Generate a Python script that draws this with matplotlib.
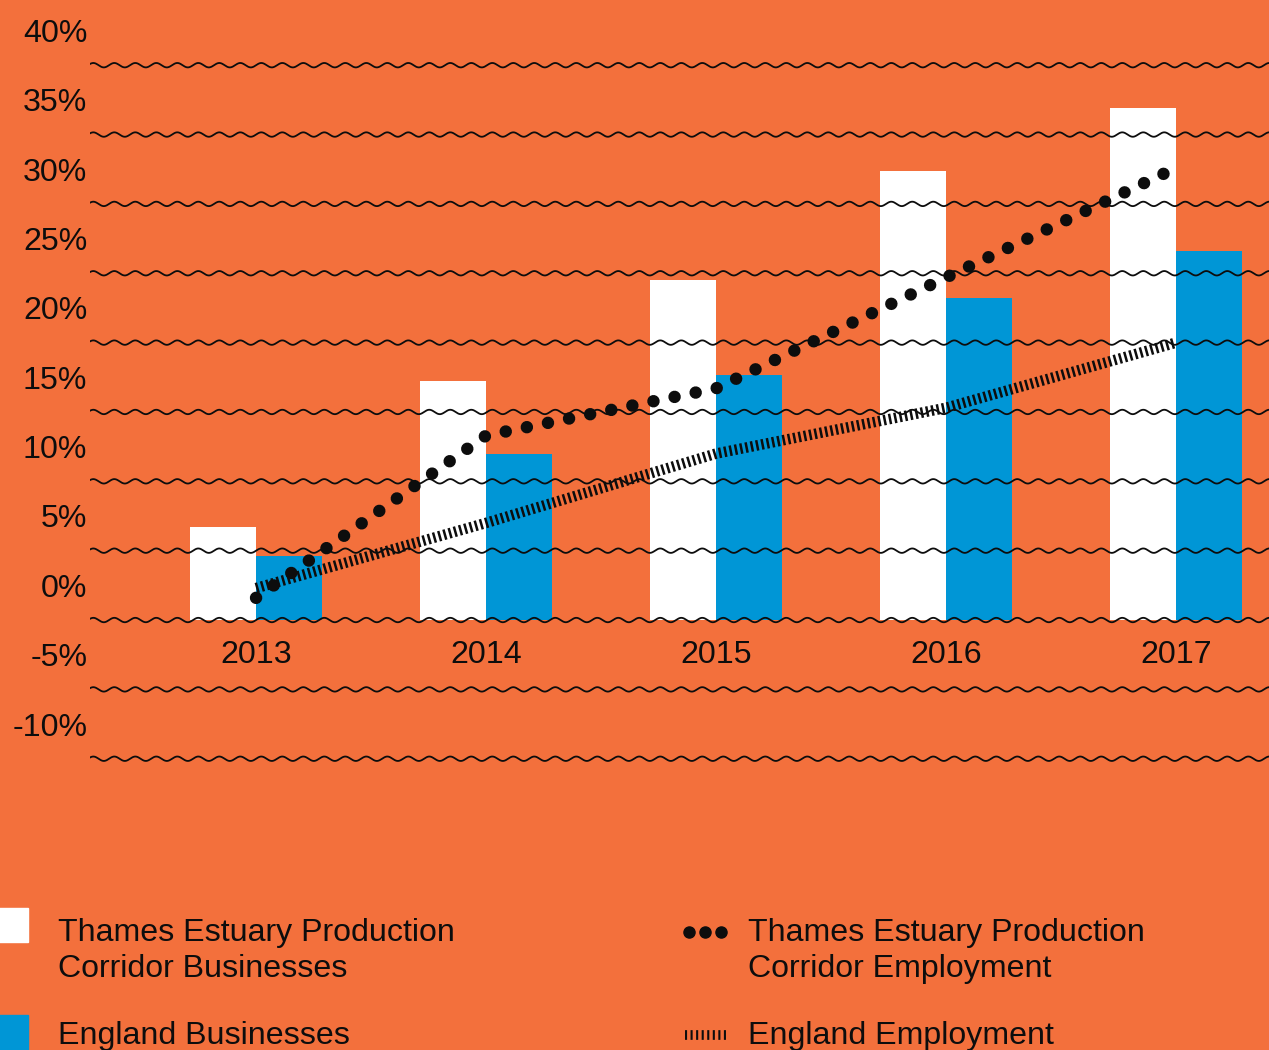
import numpy as np
import matplotlib
matplotlib.use("Agg")
import matplotlib.pyplot as plt
from matplotlib.lines import Line2D
from matplotlib.patches import Rectangle

plt.rcParams['font.family'] = ['Liberation Sans', 'DejaVu Sans']
plt.rcParams['lines.scale_dashes'] = False

# data (percent growth since 2012)
years = ['2013', '2014', '2015', '2016', '2017']
tepc_businesses = [6.7, 17.2, 24.5, 32.4, 36.9]
england_businesses = [4.6, 12.0, 17.7, 23.2, 26.6]
tepc_employment = [1.6, 13.3, 16.7, 24.7, 32.6]
england_employment = [2.3, 7.0, 12.0, 15.3, 20.0]
grid_values = [-10, -5, 0, 5, 10, 15, 20, 25, 30, 35, 40]
tick_labels = ['-10%', '-5%', '0%', '5%', '10%', '15%', '20%', '25%', '30%', '35%', '40%']

ORANGE = '#F3703C'
BLUE = '#0096D6'
INK = '#0d0d0d'
W, H = 1269, 1050
FS = 23.1

fig = plt.figure(figsize=(W / 100, H / 100), dpi=100, facecolor=ORANGE)
ax = fig.add_axes([90 / W, 1 - 793 / H, 1 - 90 / W, 793 / H])
ax.set_facecolor(ORANGE)
ax.set_xlim(-0.722, 4.404)
ax.set_ylim(-12.47, 44.70)

x = np.arange(len(years))
w = 0.287
ax.bar(x - w / 2, tepc_businesses, w, color='white', zorder=1)
ax.bar(x + w / 2, england_businesses, w, color=BLUE, zorder=1)

# wavy gridlines
xs = np.linspace(-0.722, 4.404, 3000)
for v in grid_values:
    ax.plot(xs, v + 0.16 * np.sin(2 * np.pi * xs / 0.0913), color=INK,
            lw=1.3, zorder=2)

# england employment: thick striped line
ax.plot(x, england_employment, color=INK, lw=7.6, dashes=(1.8, 2.1),
        dash_capstyle='butt', zorder=3)
# tepc employment: round dots
ax.plot(x, tepc_employment, color=INK, lw=9, dashes=(0.01, 15.5),
        dash_capstyle='round', zorder=4)

ax.set_yticks(np.array(grid_values) + 2.5, tick_labels)
ax.tick_params(axis='y', length=0, pad=2, labelsize=FS, labelcolor=INK)
ax.set_xticks([])
for s in ax.spines.values():
    s.set_visible(False)

for i, yr in enumerate(years):
    ax.text(i, -2.5, yr, ha='center', va='center', fontsize=FS, color=INK)


# legend, laid out in pixels
def fx(px):
    return px / W


def fy(py):
    return 1 - py / H


fig.add_artist(Rectangle((fx(-5), fy(942)), fx(33), 34 / H, color='white',
                         transform=fig.transFigure))
fig.add_artist(Rectangle((fx(-5), fy(1055)), fx(33), 40 / H, color=BLUE,
                         transform=fig.transFigure))
fig.text(fx(58), fy(951), 'Thames Estuary Production\nCorridor Businesses',
         fontsize=FS, va='center', ha='left', linespacing=1.24, color=INK)
fig.text(fx(58), fy(1036), 'England Businesses', fontsize=FS, va='center',
         ha='left', color=INK)
fig.add_artist(Line2D([fx(689), fx(705), fx(721)], [fy(932)] * 3, marker='o',
                      markersize=8, color=INK, linestyle='none',
                      transform=fig.transFigure))
fig.add_artist(Line2D([fx(685), fx(728)], [fy(1035)] * 2, color=INK,
                      lw=7, dashes=(1.5, 2.5), dash_capstyle='butt',
                      transform=fig.transFigure))
fig.text(fx(748), fy(951), 'Thames Estuary Production\nCorridor Employment',
         fontsize=FS, va='center', ha='left', linespacing=1.24, color=INK)
fig.text(fx(748), fy(1036), 'England Employment', fontsize=FS, va='center',
         ha='left', color=INK)

fig.savefig('out.png', dpi=100, facecolor=ORANGE)
